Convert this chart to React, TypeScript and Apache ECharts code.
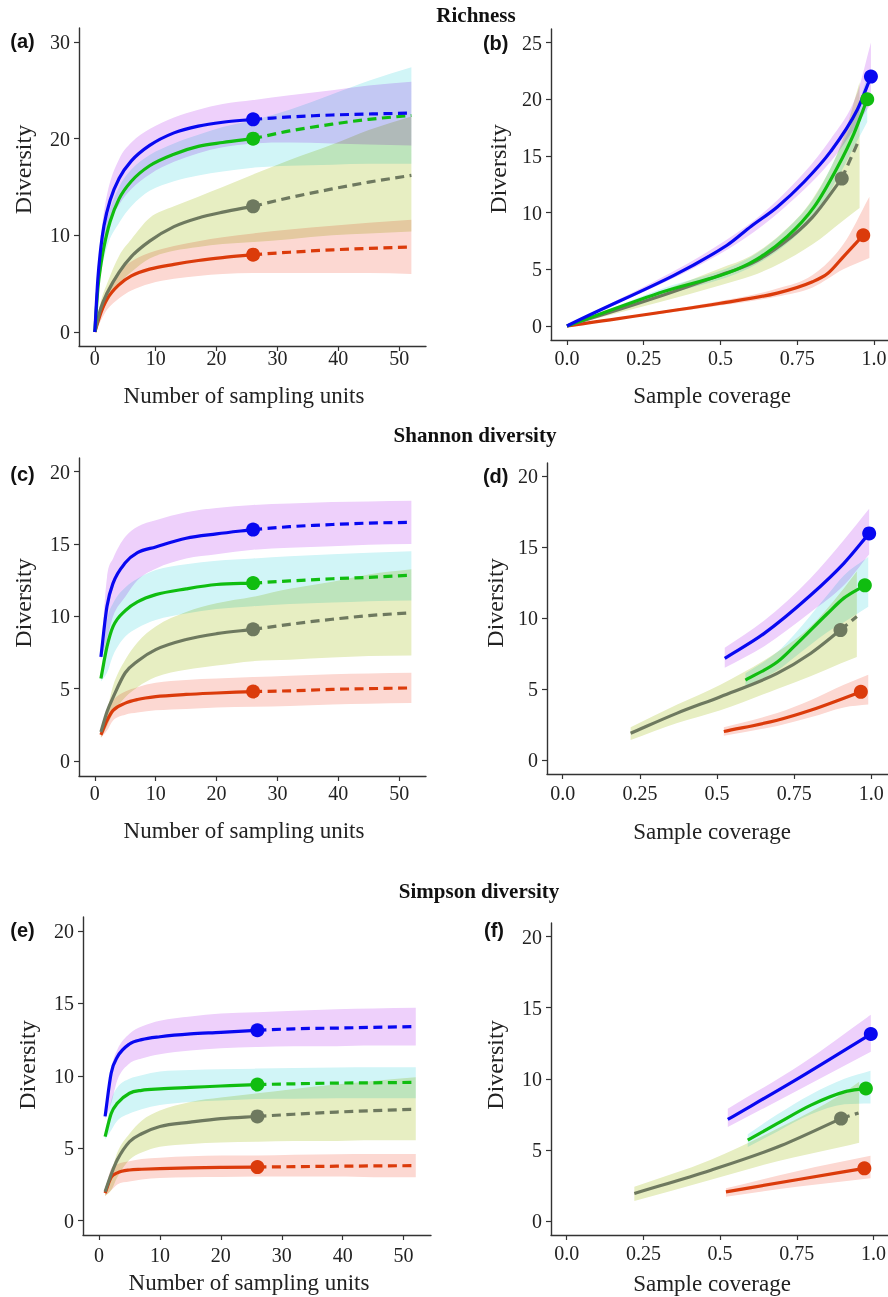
import React, { useEffect, useRef } from "react";
import * as echarts from "echarts";

// ---------- colours ----------
const LINE: Record<string, string> = { blue: "#0808f0", green: "#10bd10", gray: "#6e795f", red: "#db3b0b" };
const FILL: Record<string, string> = { blue: "#eed0fb", green: "#d1f5f7", gray: "#e7eec2", red: "#fcd8d2" };

// ---------- tick values / texts ----------
const unitTicks = [0, 10, 20, 30, 40, 50];
const covTicks = [0, 0.25, 0.5, 0.75, 1];
const covTickLabels = ["0.0", "0.25", "0.5", "0.75", "1.0"];
const richUnitYTicks = [0, 10, 20, 30];
const richCovYTicks = [0, 5, 10, 15, 20, 25];
const divYTicks = [0, 5, 10, 15, 20];
const TITLES = ["Richness", "Shannon diversity", "Simpson diversity"];
const PANEL_LABELS = ["(a)", "(b)", "(c)", "(d)", "(e)", "(f)"];
const X_NAMES = ["Number of sampling units", "Sample coverage"];
const Y_NAME = "Diversity";

// ---------- (a) richness vs sampling units ----------
const aBlueObs = [[0, 0], [0.5, 5.5], [1, 8.8], [1.5, 11], [2.5, 13.6], [4, 15.9], [6, 17.7], [9, 19.3], [13, 20.6], [17, 21.3], [21, 21.7], [26, 22.0]];
const aBlueExt = [[26, 22.0], [32, 22.25], [39, 22.45], [45, 22.55], [52, 22.65]];
const aBlueRib = [[0, 0, 0], [0.5, 4.5, 6.3], [1, 7.5, 10], [2, 10.5, 14.2], [4, 13.2, 17.9], [6, 14.8, 19.6], [9, 16.3, 21.0], [13, 17.6, 22.2], [17, 18.5, 23.0], [21, 19.1, 23.6], [26, 19.5, 24.0], [32, 19.6, 24.5], [39, 19.5, 25.0], [45, 19.4, 25.5], [52, 19.3, 25.9]];
const aGreenObs = [[0, 0], [0.5, 4.5], [1, 7.0], [1.5, 8.8], [2.5, 11.4], [4, 13.8], [6, 15.6], [9, 17.2], [13, 18.4], [17, 19.2], [21, 19.6], [26, 20.0]];
const aGreenExt = [[26, 20.0], [32, 20.8], [39, 21.5], [45, 22.0], [52, 22.4]];
const aGreenRib = [[0, 0, 0], [0.5, 3.8, 5.3], [1, 6, 8.2], [2, 8.8, 11.6], [4, 11.3, 15.0], [6, 13.0, 16.8], [9, 14.6, 18.3], [13, 15.6, 19.5], [17, 16.2, 20.4], [21, 16.6, 21.2], [26, 17.0, 21.9], [32, 17.2, 23.0], [39, 17.3, 24.6], [45, 17.4, 26.0], [52, 17.4, 27.4]];
const aGrayObs = [[0, 0], [1, 2.5], [2, 4.0], [4, 6.2], [6, 7.8], [9, 9.4], [13, 10.9], [17, 11.8], [21, 12.4], [26, 13.0]];
const aGrayExt = [[26, 13.0], [32, 13.9], [39, 14.8], [45, 15.5], [52, 16.2]];
const aGrayRib = [[0, 0, 0], [1, 1.8, 3.2], [2, 3.0, 5.0], [4, 5.0, 7.9], [6, 6.2, 9.6], [9, 7.6, 11.8], [13, 8.4, 13.0], [17, 8.8, 14.0], [21, 9.1, 15.0], [26, 9.3, 16.3], [32, 9.6, 17.8], [39, 10.0, 19.4], [45, 10.2, 20.9], [52, 10.4, 22.3]];
const aRedObs = [[0, 0], [1, 2.0], [2, 3.4], [4, 4.9], [6, 5.8], [9, 6.5], [13, 7.0], [17, 7.4], [21, 7.7], [26, 8.0]];
const aRedExt = [[26, 8.0], [32, 8.25], [39, 8.5], [45, 8.65], [52, 8.8]];
const aRedRib = [[0, 0, 0], [1, 1.2, 2.8], [2, 2.3, 4.4], [4, 3.5, 6.3], [6, 4.3, 7.3], [9, 5.0, 8.2], [13, 5.5, 8.9], [17, 5.8, 9.4], [21, 6.0, 9.8], [26, 6.1, 10.2], [32, 6.1, 10.6], [39, 6.1, 11.0], [45, 6.1, 11.3], [52, 6.0, 11.6]];

// ---------- (b) richness vs sample coverage ----------
const bBlueObs = [[0, 0], [0.52, 7.1], [0.6, 8.8], [0.685, 10.5], [0.772, 12.7], [0.859, 15.4], [0.946, 19.1], [0.99, 22.0]];
const bBlueRib = [[0, 0, 0], [0.52, 6.7, 7.6], [0.685, 9.9, 11.1], [0.859, 14.5, 16.5], [0.946, 17.8, 20.6], [0.99, 19.6, 25.0]];
const bGreenObs = [[0, 0], [0.3, 2.9], [0.593, 5.5], [0.718, 7.9], [0.805, 10.5], [0.881, 14.0], [0.935, 17.0], [0.978, 20.0]];
const bGreenRib = [[0, 0, 0], [0.3, 2.6, 3.2], [0.593, 5.1, 6.0], [0.718, 7.3, 8.6], [0.805, 9.7, 11.3], [0.881, 13.0, 15.2], [0.935, 15.8, 18.4], [0.978, 18.0, 22.0]];
const bGrayObs = [[0, 0], [0.3, 2.6], [0.5, 4.5], [0.6, 5.5], [0.7, 7.2], [0.8, 9.6], [0.895, 13.0]];
const bGrayExt = [[0.895, 13.0], [0.951, 16.4]];
const bGrayRib = [[0, 0, 0], [0.3, 2.1, 3.0], [0.5, 3.6, 5.1], [0.6, 4.4, 6.2], [0.7, 5.6, 8.2], [0.8, 7.2, 11.2], [0.895, 9.2, 16.2], [0.953, 10.4, 21.5]];
const bRedObs = [[0, 0], [0.5, 2.0], [0.685, 2.9], [0.8, 3.9], [0.85, 4.65], [0.9, 6.1], [0.965, 8.0]];
const bRedRib = [[0, 0, 0], [0.5, 1.8, 2.2], [0.685, 2.6, 3.3], [0.8, 3.4, 4.5], [0.9, 5.0, 7.2], [0.985, 6.0, 11.4]];

// ---------- (c) Shannon vs sampling units ----------
const cBlueObs = [[1, 7.2], [2, 10.7], [3, 12.3], [5, 13.7], [7, 14.4], [10, 14.8], [15, 15.4], [20, 15.7], [26, 16.0]];
const cBlueExt = [[26, 16.0], [32, 16.2], [39, 16.35], [45, 16.45], [52, 16.5]];
const cBlueRib = [[1, 7.0, 7.4], [2, 8.4, 12.7], [3, 10.0, 14.0], [5, 11.35, 15.5], [7, 12.5, 16.2], [10, 13.3, 16.65], [15, 14.0, 17.2], [20, 14.3, 17.5], [26, 14.6, 17.7], [32, 14.75, 17.8], [39, 14.85, 17.9], [45, 14.95, 17.95], [52, 15.0, 18.0]];
const cGreenObs = [[1, 5.7], [2, 7.9], [3, 9.3], [5, 10.4], [7, 11.0], [10, 11.5], [15, 11.9], [20, 12.2], [26, 12.3]];
const cGreenExt = [[26, 12.3], [32, 12.45], [39, 12.6], [45, 12.7], [52, 12.85]];
const cGreenRib = [[1, 5.5, 5.9], [2, 6.1, 9.7], [3, 7.3, 10.9], [5, 8.6, 12.0], [7, 9.2, 12.6], [10, 9.75, 13.2], [15, 10.2, 13.6], [20, 10.5, 13.85], [26, 10.7, 14.0], [32, 10.85, 14.15], [39, 10.95, 14.3], [45, 11.05, 14.4], [52, 11.1, 14.5]];
const cGrayObs = [[1, 2.0], [2, 3.4], [3, 4.4], [5, 6.1], [7, 6.9], [10, 7.7], [15, 8.4], [20, 8.8], [26, 9.1]];
const cGrayExt = [[26, 9.1], [32, 9.45], [39, 9.8], [45, 10.05], [52, 10.25]];
const cGrayRib = [[1, 1.6, 2.2], [2, 2.4, 3.5], [3, 3.3, 5.2], [5, 4.4, 7.0], [7, 5.1, 8.2], [10, 5.8, 9.3], [15, 6.3, 10.3], [20, 6.6, 10.9], [26, 6.9, 11.35], [32, 7.0, 11.9], [39, 7.15, 12.4], [45, 7.25, 12.9], [52, 7.3, 13.25]];
const cRedObs = [[1, 1.8], [2, 2.8], [3, 3.5], [5, 4.0], [7, 4.25], [10, 4.45], [15, 4.6], [20, 4.7], [26, 4.8]];
const cRedExt = [[26, 4.8], [32, 4.85], [39, 4.95], [45, 5.0], [52, 5.05]];
const cRedRib = [[1, 1.6, 2.0], [2, 2.1, 3.5], [3, 2.8, 4.2], [5, 3.2, 4.8], [7, 3.35, 5.1], [10, 3.5, 5.4], [15, 3.6, 5.6], [20, 3.7, 5.7], [26, 3.75, 5.8], [32, 3.8, 5.9], [39, 3.9, 6.0], [45, 3.95, 6.05], [52, 4.0, 6.1]];

// ---------- (d) Shannon vs sample coverage ----------
const dBlueObs = [[0.525, 7.16], [0.652, 8.9], [0.803, 11.6], [0.911, 13.85], [0.993, 15.96]];
const dBlueRib = [[0.525, 6.5, 7.9], [0.652, 8.0, 9.8], [0.803, 10.4, 12.8], [0.911, 12.3, 15.5], [0.993, 14.5, 17.7]];
const dGreenObs = [[0.592, 5.63], [0.695, 6.9], [0.749, 7.98], [0.857, 10.3], [0.911, 11.4], [0.979, 12.3]];
const dGreenRib = [[0.592, 5.2, 6.1], [0.695, 6.3, 7.6], [0.749, 7.2, 8.8], [0.857, 9.0, 11.6], [0.911, 9.7, 13.0], [0.99, 10.8, 14.3]];
const dGrayObs = [[0.22, 1.88], [0.371, 3.3], [0.511, 4.46], [0.695, 6.1], [0.803, 7.5], [0.9, 9.15]];
const dGrayExt = [[0.9, 9.15], [0.953, 10.1]];
const dGrayRib = [[0.22, 1.4, 2.3], [0.371, 2.6, 3.9], [0.511, 3.5, 5.3], [0.695, 5.0, 7.6], [0.803, 5.9, 9.4], [0.9, 6.8, 11.8], [0.953, 7.25, 13.3]];
const dRedObs = [[0.522, 2.0], [0.695, 2.8], [0.803, 3.5], [0.911, 4.35], [0.966, 4.8]];
const dRedRib = [[0.522, 1.7, 2.3], [0.695, 2.4, 3.3], [0.803, 3.0, 4.2], [0.911, 3.7, 5.3], [0.99, 3.9, 6.0]];

// ---------- (e) Simpson vs sampling units ----------
const eBlueObs = [[1, 7.2], [2, 10.2], [3, 11.3], [5, 12.2], [7, 12.5], [10, 12.7], [15, 12.9], [20, 13.0], [26, 13.15]];
const eBlueExt = [[26, 13.15], [32, 13.25], [39, 13.3], [45, 13.35], [52, 13.4]];
const eBlueRib = [[1, 7.0, 7.4], [2, 8.1, 10.5], [3, 9.7, 11.8], [5, 10.85, 12.9], [7, 11.2, 13.4], [10, 11.5, 13.8], [15, 11.75, 14.1], [20, 11.9, 14.3], [26, 12.0, 14.4], [32, 12.05, 14.5], [39, 12.05, 14.6], [45, 12.1, 14.65], [52, 12.1, 14.7]];
const eGreenObs = [[1, 5.8], [2, 7.4], [3, 8.1], [5, 8.8], [7, 9.0], [10, 9.1], [15, 9.2], [20, 9.3], [26, 9.4]];
const eGreenExt = [[26, 9.4], [32, 9.45], [39, 9.5], [45, 9.52], [52, 9.55]];
const eGreenRib = [[1, 5.6, 6.0], [2, 6.25, 8.3], [3, 6.9, 9.2], [5, 7.4, 9.8], [7, 7.7, 10.05], [10, 7.98, 10.3], [15, 8.2, 10.4], [20, 8.3, 10.45], [26, 8.4, 10.5], [32, 8.42, 10.55], [39, 8.45, 10.58], [45, 8.45, 10.6], [52, 8.45, 10.6]];
const eGrayObs = [[1, 2.0], [2, 3.2], [3, 4.2], [5, 5.45], [7, 6.0], [10, 6.5], [15, 6.8], [20, 7.05], [26, 7.2]];
const eGrayExt = [[26, 7.2], [32, 7.35], [39, 7.5], [45, 7.6], [52, 7.7]];
const eGrayRib = [[1, 1.7, 2.2], [2, 2.1, 3.3], [3, 3.0, 4.7], [5, 4.2, 6.0], [7, 4.7, 6.9], [10, 5.1, 7.6], [15, 5.3, 8.2], [20, 5.4, 8.5], [26, 5.45, 8.8], [32, 5.5, 9.1], [39, 5.5, 9.4], [45, 5.55, 9.65], [52, 5.55, 9.9]];
const eRedObs = [[1, 1.9], [2, 3.0], [3, 3.3], [5, 3.5], [7, 3.55], [10, 3.6], [15, 3.65], [20, 3.68], [26, 3.7]];
const eRedExt = [[26, 3.7], [32, 3.73], [39, 3.76], [45, 3.78], [52, 3.8]];
const eRedRib = [[1, 1.7, 2.1], [2, 2.1, 3.6], [3, 2.5, 3.9], [5, 2.7, 4.1], [7, 2.85, 4.25], [10, 2.95, 4.35], [15, 3.0, 4.45], [20, 3.02, 4.5], [26, 3.05, 4.5], [32, 3.05, 4.55], [39, 3.05, 4.58], [45, 3.0, 4.6], [52, 3.0, 4.6]];

// ---------- (f) Simpson vs sample coverage ----------
const fBlueObs = [[0.525, 7.14], [0.763, 10.14], [0.991, 13.15]];
const fBlueRib = [[0.525, 6.6, 7.9], [0.763, 9.3, 11.0], [0.991, 11.9, 14.5]];
const fGreenObs = [[0.59, 5.68], [0.687, 6.86], [0.796, 8.15], [0.905, 9.08], [0.975, 9.32]];
const fGreenRib = [[0.59, 5.2, 6.1], [0.687, 6.3, 7.5], [0.796, 7.5, 8.9], [0.905, 8.2, 10.0], [0.99, 8.27, 10.56]];
const fGrayObs = [[0.2205, 1.93], [0.47, 3.57], [0.687, 5.2], [0.894, 7.2]];
const fGrayExt = [[0.894, 7.2], [0.951, 7.6]];
const fGrayRib = [[0.2205, 1.4, 2.4], [0.47, 2.9, 4.3], [0.687, 4.2, 6.5], [0.894, 5.2, 8.9], [0.953, 5.5, 9.8]];
const fRedObs = [[0.519, 2.04], [0.75, 2.9], [0.97, 3.7]];
const fRedRib = [[0.519, 1.7, 2.3], [0.75, 2.4, 3.5], [0.99, 3.0, 4.58]];

type Group = { key: string; obs: number[][]; ext?: number[][]; rib: number[][] };
type Panel = {
  grid: { left: number; top: number; width: number; height: number };
  xr: number[]; yr: number[]; xt: number[]; yt: number[]; cov: boolean; xMargin: number;
  groups: Group[]; labelPos: number[]; xNamePos: number[]; yNamePos: number[];
};

const PANELS: Panel[] = [
  {
    grid: { left: 79, top: 28, width: 347, height: 318 }, xr: [-2.6, 54.4], yr: [-1.45, 31.45], xt: unitTicks, yt: richUnitYTicks, cov: false, xMargin: 2,
    groups: [
      { key: "red", obs: aRedObs, ext: aRedExt, rib: aRedRib },
      { key: "gray", obs: aGrayObs, ext: aGrayExt, rib: aGrayRib },
      { key: "green", obs: aGreenObs, ext: aGreenExt, rib: aGreenRib },
      { key: "blue", obs: aBlueObs, ext: aBlueExt, rib: aBlueRib },
    ],
    labelPos: [22.5, 41], xNamePos: [244, 395], yNamePos: [23, 169.5],
  },
  {
    grid: { left: 551, top: 29, width: 337, height: 311 }, xr: [-0.052, 1.0456], yr: [-1.24, 26.2], xt: covTicks, yt: richCovYTicks, cov: true, xMargin: 8,
    groups: [
      { key: "red", obs: bRedObs, rib: bRedRib },
      { key: "gray", obs: bGrayObs, ext: bGrayExt, rib: bGrayRib },
      { key: "green", obs: bGreenObs, rib: bGreenRib },
      { key: "blue", obs: bBlueObs, rib: bBlueRib },
    ],
    labelPos: [495.7, 42.5], xNamePos: [712, 395], yNamePos: [498, 169],
  },
  {
    grid: { left: 79, top: 458, width: 347, height: 318 }, xr: [-2.6, 54.4], yr: [-1.04, 20.95], xt: unitTicks, yt: divYTicks, cov: false, xMargin: 7,
    groups: [
      { key: "red", obs: cRedObs, ext: cRedExt, rib: cRedRib },
      { key: "gray", obs: cGrayObs, ext: cGrayExt, rib: cGrayRib },
      { key: "green", obs: cGreenObs, ext: cGreenExt, rib: cGreenRib },
      { key: "blue", obs: cBlueObs, ext: cBlueExt, rib: cBlueRib },
    ],
    labelPos: [22.5, 474], xNamePos: [244, 830], yNamePos: [23, 603],
  },
  {
    grid: { left: 547, top: 463, width: 341, height: 311 }, xr: [-0.051, 1.054], yr: [-0.99, 20.92], xt: covTicks, yt: divYTicks, cov: true, xMargin: 9,
    groups: [
      { key: "red", obs: dRedObs, rib: dRedRib },
      { key: "gray", obs: dGrayObs, ext: dGrayExt, rib: dGrayRib },
      { key: "green", obs: dGreenObs, rib: dGreenRib },
      { key: "blue", obs: dBlueObs, rib: dBlueRib },
    ],
    labelPos: [495.7, 476], xNamePos: [712, 831.7], yNamePos: [495, 603],
  },
  {
    grid: { left: 83, top: 917, width: 348, height: 318 }, xr: [-2.63, 54.5], yr: [-0.99, 20.97], xt: unitTicks, yt: divYTicks, cov: false, xMargin: 10,
    groups: [
      { key: "red", obs: eRedObs, ext: eRedExt, rib: eRedRib },
      { key: "gray", obs: eGrayObs, ext: eGrayExt, rib: eGrayRib },
      { key: "green", obs: eGreenObs, ext: eGreenExt, rib: eGreenRib },
      { key: "blue", obs: eBlueObs, ext: eBlueExt, rib: eBlueRib },
    ],
    labelPos: [22.5, 930], xNamePos: [249, 1282.7], yNamePos: [26.7, 1065],
  },
  {
    grid: { left: 551, top: 923, width: 337, height: 312 }, xr: [-0.051, 1.047], yr: [-0.99, 20.96], xt: covTicks, yt: divYTicks, cov: true, xMargin: 8,
    groups: [
      { key: "red", obs: fRedObs, rib: fRedRib },
      { key: "gray", obs: fGrayObs, ext: fGrayExt, rib: fGrayRib },
      { key: "green", obs: fGreenObs, rib: fGreenRib },
      { key: "blue", obs: fBlueObs, rib: fBlueRib },
    ],
    labelPos: [494, 930], xNamePos: [712, 1283], yNamePos: [495, 1065],
  },
];

const TITLE_POS = [[476, 15], [475, 435], [479, 891]];

// monotone cubic (screen space) bezier control points through the points
function monoSegs(p: number[][]) {
  const n = p.length;
  const s: number[] = [];
  const m: number[] = new Array(n).fill(0);
  for (let i = 0; i < n - 1; i++) {
    const dx = p[i + 1][0] - p[i][0];
    s.push(dx === 0 ? 0 : (p[i + 1][1] - p[i][1]) / dx);
  }
  if (n === 2) { m[0] = s[0]; m[1] = s[0]; }
  else {
    m[0] = s[0]; m[n - 1] = s[n - 2];
    for (let i = 1; i < n - 1; i++) m[i] = s[i - 1] * s[i] <= 0 ? 0 : (s[i - 1] + s[i]) / 2;
    for (let i = 0; i < n - 1; i++) {
      if (s[i] === 0) { m[i] = 0; m[i + 1] = 0; continue; }
      const a = m[i] / s[i], b = m[i + 1] / s[i];
      const h = a * a + b * b;
      if (h > 9) { const t = 3 / Math.sqrt(h); m[i] = t * a * s[i]; m[i + 1] = t * b * s[i]; }
    }
  }
  const segs: number[][][] = [];
  for (let i = 0; i < n - 1; i++) {
    const dx = (p[i + 1][0] - p[i][0]) / 3;
    segs.push([[p[i][0] + dx, p[i][1] + m[i] * dx], [p[i + 1][0] - dx, p[i + 1][1] - m[i + 1] * dx]]);
  }
  return segs;
}

const fx = (v: number) => v.toFixed(2);
function curvePath(pts: number[][]) {
  const sg = monoSegs(pts);
  let d = `M${fx(pts[0][0])},${fx(pts[0][1])}`;
  sg.forEach((c, i) => { d += `C${fx(c[0][0])},${fx(c[0][1])} ${fx(c[1][0])},${fx(c[1][1])} ${fx(pts[i + 1][0])},${fx(pts[i + 1][1])}`; });
  return d;
}

function ribbonSeries(k: number, rib: number[][], color: string) {
  return {
    type: "custom", coordinateSystem: "cartesian2d", xAxisIndex: k, yAxisIndex: k,
    data: [[rib[0][0], rib[0][1]]], silent: true, z: 1,
    renderItem: (_params: any, api: any) => {
      const up = rib.map((r) => api.coord([r[0], r[2]]));
      const lo = rib.map((r) => api.coord([r[0], r[1]]));
      const n = rib.length;
      const sl = monoSegs(lo);
      let d = curvePath(up);
      d += `L${fx(lo[n - 1][0])},${fx(lo[n - 1][1])}`;
      for (let i = n - 2; i >= 0; i--) { const c = sl[i]; d += `C${fx(c[1][0])},${fx(c[1][1])} ${fx(c[0][0])},${fx(c[0][1])} ${fx(lo[i][0])},${fx(lo[i][1])}`; }
      d += "Z";
      return { type: "path", shape: { pathData: d }, style: { fill: color, stroke: "none" } };
    },
  };
}

function curveSeries(k: number, data: number[][], color: string, dashed: boolean) {
  return {
    type: "custom", coordinateSystem: "cartesian2d", xAxisIndex: k, yAxisIndex: k,
    data: [data[0]], silent: true, z: 3,
    renderItem: (_params: any, api: any) => {
      const pts = data.map((d) => api.coord(d));
      return {
        type: "path", shape: { pathData: curvePath(pts) },
        style: { fill: "none", stroke: color, lineWidth: 3.2, lineDash: dashed ? [9, 5.5] : null, lineCap: "butt", lineJoin: "round" },
      };
    },
  };
}

function pointSeries(k: number, pt: number[], color: string) {
  return {
    type: "scatter", xAxisIndex: k, yAxisIndex: k, data: [pt], symbol: "circle", symbolSize: 14,
    itemStyle: { color, opacity: 1 }, silent: true, z: 5, emphasis: { disabled: true },
  };
}

const AX = "#333333";
const TXT = "#222222";
const SERIF = "Liberation Serif";

function buildOption() {
  const grid: any[] = [], xAxis: any[] = [], yAxis: any[] = [], series: any[] = [], graphic: any[] = [];
  PANELS.forEach((p, k) => {
    grid.push({ ...p.grid, containLabel: false, outerBoundsMode: "none" });
    xAxis.push({
      gridIndex: k, type: "value", min: p.xr[0], max: p.xr[1],
      axisLine: { show: true, onZero: false, lineStyle: { color: AX, width: 1.4 } },
      axisTick: { show: true, inside: false, length: 5, customValues: p.xt, lineStyle: { color: AX, width: 1.2 } },
      axisLabel: {
        customValues: p.xt, margin: p.xMargin, fontFamily: SERIF, fontSize: 20, color: TXT,
        formatter: (v: number) => (p.cov ? covTickLabels[covTicks.indexOf(v)] ?? String(v) : String(v)),
      },
      splitLine: { show: false },
    });
    yAxis.push({
      gridIndex: k, type: "value", min: p.yr[0], max: p.yr[1],
      axisLine: { show: true, onZero: false, lineStyle: { color: AX, width: 1.4 } },
      axisTick: { show: true, inside: false, length: 5, customValues: p.yt, lineStyle: { color: AX, width: 1.2 } },
      axisLabel: { customValues: p.yt, margin: 9, fontFamily: SERIF, fontSize: 20, color: TXT },
      splitLine: { show: false },
    });
    p.groups.forEach((g) => series.push(ribbonSeries(k, g.rib, FILL[g.key])));
    p.groups.forEach((g) => {
      series.push(curveSeries(k, g.obs, LINE[g.key], false));
      if (g.ext) series.push(curveSeries(k, g.ext, LINE[g.key], true));
    });
    p.groups.forEach((g) => series.push(pointSeries(k, g.obs[g.obs.length - 1], LINE[g.key])));

    graphic.push({
      type: "text", x: p.labelPos[0], y: p.labelPos[1], silent: true,
      style: { text: PANEL_LABELS[k], font: 'bold 20px "Liberation Sans"', fill: "#111", align: "center", verticalAlign: "middle", textAlign: "center", textVerticalAlign: "middle" },
    });
    graphic.push({
      type: "text", x: p.xNamePos[0], y: p.xNamePos[1], silent: true,
      style: { text: X_NAMES[p.cov ? 1 : 0], font: `23px "${SERIF}"`, fill: TXT, align: "center", verticalAlign: "middle", textAlign: "center", textVerticalAlign: "middle" },
    });
    graphic.push({
      type: "text", x: p.yNamePos[0], y: p.yNamePos[1], rotation: Math.PI / 2, silent: true,
      style: { text: Y_NAME, font: `24px "${SERIF}"`, fill: TXT, align: "center", verticalAlign: "middle", textAlign: "center", textVerticalAlign: "middle" },
    });
  });
  TITLES.forEach((t, i) => {
    graphic.push({
      type: "text", x: TITLE_POS[i][0], y: TITLE_POS[i][1], silent: true,
      style: { text: t, font: `bold 21px "${SERIF}"`, fill: "#111", align: "center", verticalAlign: "middle", textAlign: "center", textVerticalAlign: "middle" },
    });
  });
  return {
    animation: false, backgroundColor: "#ffffff",
    textStyle: { fontFamily: SERIF },
    tooltip: { show: false },
    grid, xAxis, yAxis, series, graphic,
  };
}

export default function App() {
  const ref = useRef<HTMLDivElement>(null);
  useEffect(() => {
    const el = ref.current;
    if (!el) return;
    const chart = echarts.init(el, null, { renderer: "svg" });
    const ribColors = new Set(Object.values(FILL).map((c) => c.toLowerCase()));
    const applyBlend = () => {
      el.querySelectorAll("path").forEach((node) => {
        const f = (node.getAttribute("fill") || "").toLowerCase();
        if (ribColors.has(f)) (node as SVGElement).style.mixBlendMode = "multiply";
      });
    };
    chart.on("finished", applyBlend);
    chart.setOption(buildOption() as any);
    try { (chart.getZr() as any).flush(); } catch (e) { /* ignore */ }
    applyBlend();
    const t1 = setTimeout(applyBlend, 30);
    const t2 = setTimeout(applyBlend, 200);
    return () => { clearTimeout(t1); clearTimeout(t2); chart.dispose(); };
  }, []);
  return <div ref={ref} style={{ position: "absolute", left: 0, top: 0, width: 888, height: 1297 }} />;
}
